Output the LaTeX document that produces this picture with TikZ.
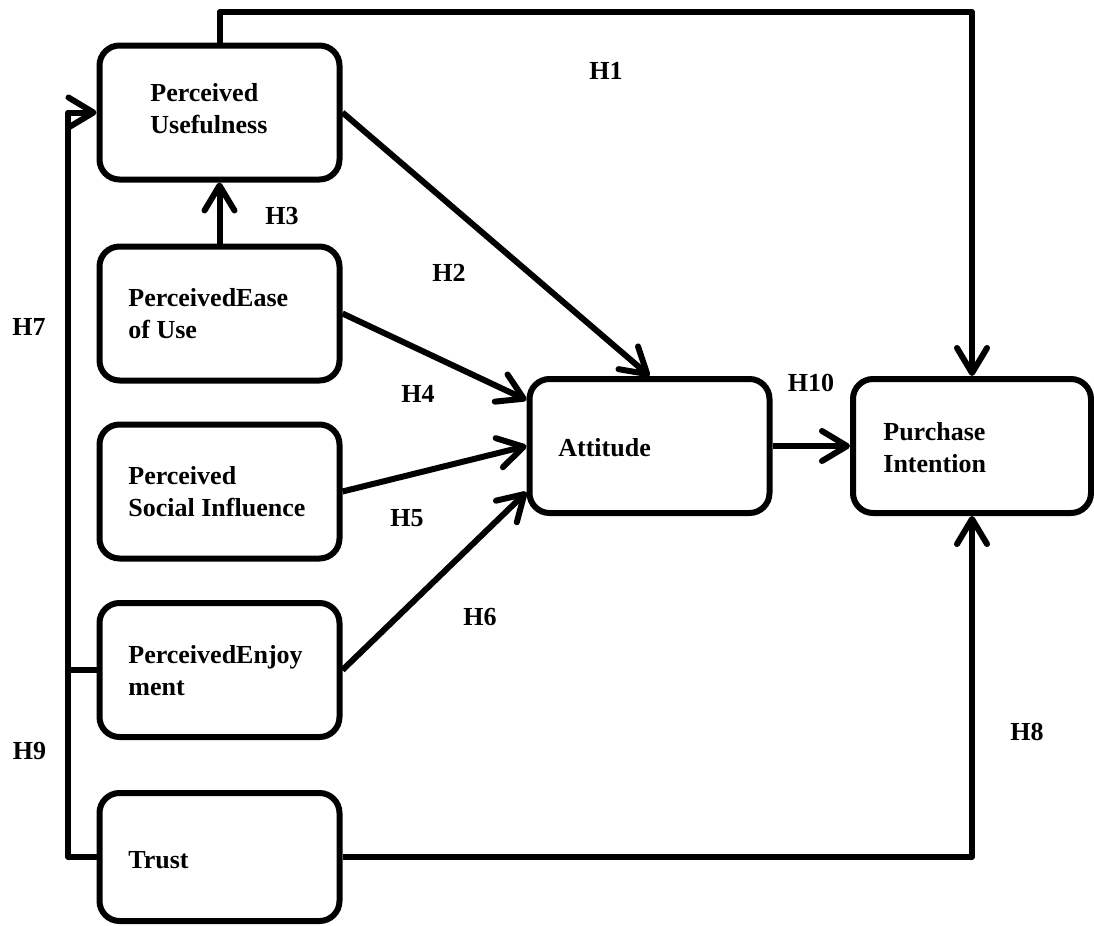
\documentclass[tikz,border=0pt]{standalone}
\usepackage{fontspec}
\setmainfont{Liberation Serif}
\usetikzlibrary{arrows.meta,calc}

\tikzset{
  construct/.style={draw, line width=3pt, rounded corners=10pt,
    minimum width=120pt, minimum height=67pt, inner sep=0pt},
  boxtext/.style={anchor=west, align=left, inner sep=0pt,
    font=\fontsize{13pt}{16pt}\selectfont\bfseries},
  hyp/.style={inner sep=0pt, font=\fontsize{13pt}{16pt}\selectfont\bfseries},
  link/.style={line width=3pt, line join=round},
  path arrow/.style={link, -{Straight Barb[length=12.5pt,width=15pt,round]}}
}

\begin{document}
\begin{tikzpicture}[x=0.5pt, y=-0.5pt]
\useasboundingbox (0,0) rectangle (1094,926);

% constructs
\node[construct] (pu)    at (219.5,112.5) {};
\node[construct] (peou)  at (219.5,313.5) {};
\node[construct] (soc)   at (219.5,491.5) {};
\node[construct] (enj)   at (219.5,670)   {};
\node[construct, minimum height=64pt] (trust) at (219.5,857) {};
\node[construct] (att)   at (649.5,446)   {};
\node[construct, minimum width=119pt] (pi) at (972,446) {};

% construct names
\node[boxtext] (tpu)    at (150,109) {Perceived\\Usefulness};
\node[boxtext] (tpeou)  at (128,314) {PerceivedEase\\of Use};
\node[boxtext] (tsoc)   at (128,492) {Perceived\\Social Influence};
\node[boxtext] (tenj)   at (128,671) {PerceivedEnjoy\\ment};
\node[boxtext] (ttrust) at (128,860) {Trust};
\node[boxtext] (tatt)   at (558,448) {Attitude};
\node[boxtext] (tpi)    at (883,448) {Purchase\\Intention};

% routing points
\coordinate (topline) at (0,12);
\coordinate (leftline) at (68,0);

% paths
\draw[path arrow] (pu.north) -- (pu.north |- topline) -| (pi.north);
\draw[path arrow] (pu.east) -- (att.north);
\draw[path arrow] (peou.north) -- (pu.south);
\draw[path arrow] (peou.east) -- ([yshift=23pt]att.west);
\draw[path arrow] (soc.east) -- (att.west);
\draw[path arrow] (enj.east) -- ([yshift=-23pt]att.west);
\draw[path arrow] (trust.west) -| (leftline |- pu.west) -- (pu.west);
\draw[link] (enj.west) -- (leftline |- enj.west);
\draw[path arrow] (trust.east) -| (pi.south);
\draw[path arrow] (att.east) -- (pi.west);

% hypothesis labels
\node[hyp] (h1)  at (606,71)   {H1};
\node[hyp] (h2)  at (449,273)  {H2};
\node[hyp] (h3)  at (282,216)  {H3};
\node[hyp] (h4)  at (418,394)  {H4};
\node[hyp] (h5)  at (407,518)  {H5};
\node[hyp] (h6)  at (480,617)  {H6};
\node[hyp] (h7)  at (29,327)   {H7};
\node[hyp] (h8)  at (1027,732) {H8};
\node[hyp] (h9)  at (29.5,751) {H9};
\node[hyp] (h10) at (811,383)  {H10};
\end{tikzpicture}
\end{document}
